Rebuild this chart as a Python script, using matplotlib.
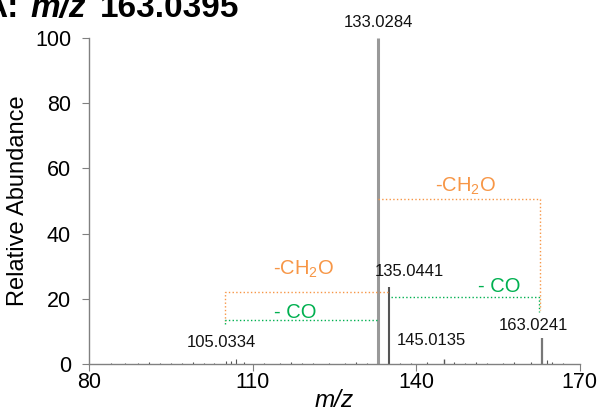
import matplotlib
matplotlib.use("Agg")
import matplotlib.pyplot as plt

plt.rcParams['font.family'] = ['Liberation Sans', 'DejaVu Sans']
plt.rcParams['mathtext.fontset'] = 'custom'
plt.rcParams['mathtext.rm'] = 'Liberation Sans'
plt.rcParams['mathtext.it'] = 'Liberation Sans:italic'
plt.rcParams['mathtext.bf'] = 'Liberation Sans:bold'

# Main peaks
main_mz = [105.0334, 133.0284, 135.0441, 145.0135, 163.0241]
main_int = [1.0, 100.0, 23.5, 1.5, 8.0]
main_labels = ["105.0334", "133.0284", "135.0441", "145.0135", "163.0241"]

# Small noise peaks along the baseline
noise_mz = [84.0, 86.5, 89.0, 91.0, 93.0, 95.0, 97.0, 99.0, 101.0, 103.0, 106.0, 107.0,
            108.5, 112.0, 115.0, 117.0, 119.0, 121.0, 124.0, 127.0, 129.0, 131.0,
            137.0, 139.0, 142.0, 147.0, 149.0, 151.0, 153.0, 156.0, 158.0, 161.0,
            164.0, 165.0, 167.0]
noise_int = [0.4, 0.3, 0.4, 0.5, 0.3, 0.4, 0.3, 0.5, 0.3, 0.4, 0.8, 1.5,
             0.6, 0.4, 0.3, 0.5, 0.4, 0.3, 0.4, 0.3, 0.5, 0.4,
             0.4, 0.3, 0.5, 0.6, 0.4, 0.5, 0.3, 0.4, 0.5, 0.6,
             1.2, 0.5, 0.4]

x_ticks = [80, 110, 140, 170]
y_ticks = [0, 20, 40, 60, 80, 100]

orange = '#F79646'
green = '#00B050'

fig = plt.figure(figsize=(6.02, 4.13), dpi=100)
ax = fig.add_axes([0.148, 0.119, 0.815, 0.789])

ax.vlines(noise_mz, 0, noise_int, color='#555555', lw=0.8)
colors = ['#555555', '#999999', '#555555', '#555555', '#777777']
widths = [0.8, 2.2, 1.5, 1.0, 1.6]
for m, v, c, w in zip(main_mz, main_int, colors, widths):
    ax.vlines(m, 0, v, color=c, lw=w)

label_pos = {
    "133.0284": (133.0284, 103.5),
    "135.0441": (138.7, 27.0),
    "105.0334": (104.3, 5.2),
    "145.0135": (142.7, 5.8),
    "163.0241": (161.5, 10.4),
}
for lab in main_labels:
    x, y = label_pos[lab]
    ax.text(x, y, lab, fontsize=12, ha='center', va='baseline', color='#111111')

# Upper bracket (163 -> 133, -CH2O)
ax.plot([133.0284, 162.8, 162.8], [50.5, 50.5, 16.5], ls=':', color=orange, lw=1.0)
ax.text(149.1, 52.8, r"-CH$_2$O", color=orange, fontsize=14.5, ha='center', va='baseline')
# 163 -> 135 (-CO)
ax.plot([135.3, 162.6, 162.6], [20.5, 20.5, 16.0], ls=':', color=green, lw=1.0)
ax.text(155.3, 22.0, "- CO", color=green, fontsize=14.5, ha='center', va='baseline')
# Lower bracket (135 -> 105, -CH2O)
ax.plot([134.9, 105.0, 105.0], [22.0, 22.0, 13.0], ls=':', color=orange, lw=1.0)
ax.text(119.3, 27.3, r"-CH$_2$O", color=orange, fontsize=14.5, ha='center', va='baseline')
# 133 -> 105 (-CO)
ax.plot([132.8, 105.0, 105.0], [13.5, 13.5, 11.5], ls=':', color=green, lw=1.0)
ax.text(117.8, 14.0, "- CO", color=green, fontsize=14.5, ha='center', va='baseline')

ax.set_xlim(80, 170)
ax.set_ylim(0, 100)
ax.set_xticks(x_ticks)
ax.set_yticks(y_ticks)
ax.tick_params(axis='both', labelsize=15.5, color='#808080', length=5, width=0.8)
ax.tick_params(axis='y', pad=8)
ax.tick_params(axis='x', pad=1)
for s in ['top', 'right']:
    ax.spines[s].set_visible(False)
for s in ['left', 'bottom']:
    ax.spines[s].set_color('#808080')
    ax.spines[s].set_linewidth(1.0)
ax.set_ylabel("Relative Abundance", fontsize=17, labelpad=4)
ax.set_xlabel("m/z", fontsize=17.5, fontstyle='italic', labelpad=-3)

# Title (cropped at top-left)
fig.text(19 / 602, 1 - 17 / 413, "A:", fontsize=24, fontweight='bold', ha='right', va='baseline')
fig.text(30 / 602, 1 - 17 / 413, "m/z", fontsize=24, fontweight='bold', fontstyle='italic', ha='left', va='baseline')
fig.text(100 / 602, 1 - 17 / 413, "163.0395", fontsize=24, fontweight='bold', ha='left', va='baseline')

fig.savefig("out.png", dpi=100)
